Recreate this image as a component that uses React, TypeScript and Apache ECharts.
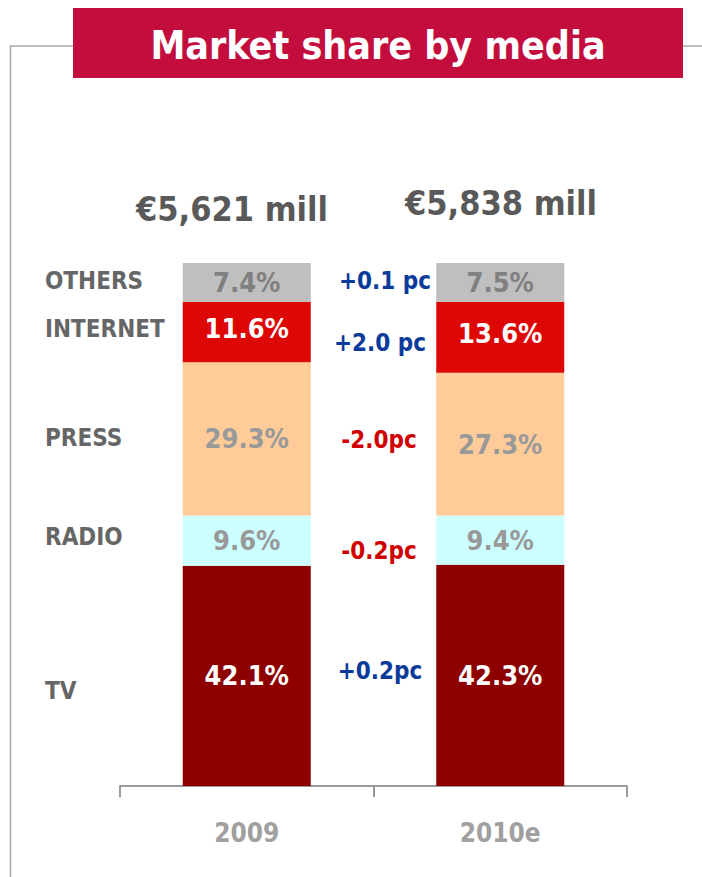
import React, { useEffect, useRef } from "react";
import * as echarts from "echarts";

const categories = ["2009", "2010e"];
const tv = [42.1, 42.3];
const radio = [9.6, 9.4];
const press = [29.3, 27.3];
const internet = [11.6, 13.6];
const others = [7.4, 7.5];
const totals = ["€5,621 mill", "€5,838 mill"];
const mediaNames = ["OTHERS", "INTERNET", "PRESS", "RADIO", "TV"];
const changes = ["+0.1 pc", "+2.0 pc", "-2.0pc", "-0.2pc", "+0.2pc"];

const FONT = "'DejaVu Sans Condensed', 'DejaVu Sans', sans-serif";
const BLUE = "#0A3A9A";
const RED = "#D00000";

export default function App() {
  const ref = useRef<HTMLDivElement>(null);
  useEffect(() => {
    if (!ref.current) return;
    const chart = echarts.init(ref.current, undefined, { renderer: "svg" });

    const mkSeries = (
      name: string,
      data: number[],
      color: string,
      labelColor: string,
      offsetY = 0
    ) => ({
      name,
      type: "bar",
      stack: "total",
      data,
      barWidth: 128,
      itemStyle: { color },
      label: {
        show: true,
        position: "inside",
        offset: [0, offsetY],
        color: labelColor,
        fontFamily: FONT,
        fontWeight: "bold",
        fontSize: 27,
        formatter: (p: any) => `${Number(p.value).toFixed(1)}%`,
      },
    });

    const leftY = [281, 329, 438, 537, 691];
    const changeX = [385, 380, 379, 379, 380];
    const changeY = [281, 343, 440, 551, 671];
    const changeColor = [BLUE, BLUE, RED, RED, BLUE];
    const totalX = [232, 501];
    const totalY = [209, 203];

    const graphics: any[] = [
      {
        type: "polyline",
        shape: { points: [[73, 46], [10.5, 46], [10.5, 877]] },
        style: { stroke: "#A6A6A6", lineWidth: 1.5, fill: null },
      },
      {
        type: "line",
        shape: { x1: 683, y1: 46, x2: 702, y2: 46 },
        style: { stroke: "#A6A6A6", lineWidth: 1.5 },
      },
      {
        type: "rect",
        shape: { x: 73, y: 8, width: 610, height: 70 },
        style: { fill: "#C30D3D" },
      },
      {
        type: "text",
        x: 378,
        y: 45,
        style: {
          text: "Market share by media",
          fill: "#FFFFFF",
          font: `bold 39px ${FONT}`,
          textAlign: "center",
          textVerticalAlign: "middle",
        },
      },
    ];
    totals.forEach((t, i) =>
      graphics.push({
        type: "text",
        x: totalX[i],
        y: totalY[i],
        style: {
          text: t,
          fill: "#595959",
          font: `bold 34px ${FONT}`,
          textAlign: "center",
          textVerticalAlign: "middle",
        },
      })
    );
    mediaNames.forEach((t, i) =>
      graphics.push({
        type: "text",
        x: 45,
        y: leftY[i],
        style: {
          text: t,
          fill: "#666666",
          font: `bold 24px ${FONT}`,
          textAlign: "left",
          textVerticalAlign: "middle",
        },
      })
    );
    changes.forEach((t, i) =>
      graphics.push({
        type: "text",
        x: changeX[i],
        y: changeY[i],
        style: {
          text: t,
          fill: changeColor[i],
          font: `bold 24px ${FONT}`,
          textAlign: "center",
          textVerticalAlign: "middle",
        },
      })
    );

    chart.setOption({
      animation: false,
      backgroundColor: "#FFFFFF",
      grid: { left: 120, right: 75, top: 263, bottom: 91, containLabel: false },
      xAxis: {
        type: "category",
        data: categories,
        boundaryGap: true,
        axisLine: { show: true, lineStyle: { color: "#9A9A9A", width: 2 } },
        axisTick: { show: true, length: 11, lineStyle: { color: "#9A9A9A", width: 2 } },
        axisLabel: {
          color: "#A0A0A0",
          fontFamily: FONT,
          fontWeight: "bold",
          fontSize: 26,
          margin: 34,
        },
      },
      yAxis: { type: "value", min: 0, max: 100, show: false, splitLine: { show: false } },
      series: [
        mkSeries("TV", tv, "#8E0000", "#FFFFFF"),
        mkSeries("RADIO", radio, "#CCFFFF", "#999999"),
        mkSeries("PRESS", press, "#FFCC99", "#999999"),
        mkSeries("INTERNET", internet, "#DD0806", "#FFFFFF", -4),
        mkSeries("OTHERS", others, "#BFBFBF", "#808080"),
      ],
      graphic: graphics,
    });
    return () => chart.dispose();
  }, []);
  return (
    <div
      ref={ref}
      style={{ position: "absolute", left: 0, top: 0, width: 702, height: 877 }}
    />
  );
}
